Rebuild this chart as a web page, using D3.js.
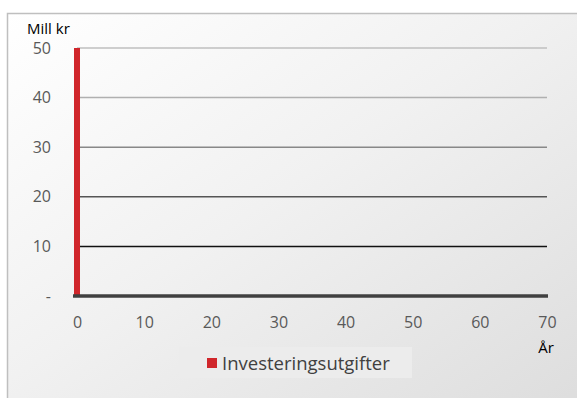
<!DOCTYPE html>
<html>
<head>
<meta charset="utf-8">
<script src="https://cdn.jsdelivr.net/npm/d3@7"></script>
<style>
  body { margin: 0; background: #fff; }
  svg { display: block; font-family: "Open Sans", sans-serif; }
</style>
</head>
<body>
<div id="chart-area"></div>
<script>
// data
var years = [0];
var investments = [50];
var yTicks = [0, 10, 20, 30, 40, 50];
var xTicks = [0, 10, 20, 30, 40, 50, 60, 70];
var gridColors = ["#404040", "#111111", "#555555", "#888888", "#b0b0b0", "#bfbfbf"];
var seriesName = "Investeringsutgifter";

var W = 577, H = 398;
var margin = {left : 77, right : 30, top : 48, bottom : 102};
var width = W - margin.left - margin.right;
var height = H - margin.top - margin.bottom;

var svg = d3.select("#chart-area")
  .append("svg")
  .attr("width", W)
  .attr("height", H);

var defs = svg.append("defs");
var grad = defs.append("linearGradient")
  .attr("id", "bg")
  .attr("x1", "0").attr("y1", "0")
  .attr("x2", "1").attr("y2", "1");
grad.append("stop").attr("offset", "0").attr("stop-color", "#ffffff");
grad.append("stop").attr("offset", "0.45").attr("stop-color", "#f1f1f1");
grad.append("stop").attr("offset", "1").attr("stop-color", "#dcdcdc");

svg.append("rect")
  .attr("x", 7.5).attr("y", 13.5)
  .attr("width", W + 10).attr("height", H + 10)
  .attr("fill", "url(#bg)")
  .attr("stroke", "#bfbfbf")
  .attr("stroke-width", 1.5);

var g = svg.append("g")
  .attr("transform", "translate(" + margin.left + ", " + margin.top + ")");

var x = d3.scaleLinear().domain([0, 70]).range([0, width]);
var y = d3.scaleLinear().domain([0, 50]).range([height, 0]);

// gridlines
g.selectAll("line.grid").data(yTicks.slice(1))
  .enter().append("line")
  .attr("class", "grid")
  .attr("x1", 0).attr("x2", width)
  .attr("y1", d => y(d)).attr("y2", d => y(d))
  .attr("stroke", (d, i) => gridColors[i + 1])
  .attr("stroke-width", 1.5);

// y axis labels
var yAxis = g.append("g")
  .call(d3.axisLeft(y).tickValues(yTicks).tickSize(0).tickPadding(26)
    .tickFormat(d => d === 0 ? "-" : d));
yAxis.select(".domain").remove();
yAxis.selectAll("text")
  .attr("font-size", "16px")
  .attr("font-family", "Open Sans, sans-serif")
  .attr("fill", "#595959");

// x axis labels
var xAxis = g.append("g")
  .attr("transform", "translate(0," + height + ")")
  .call(d3.axisBottom(x).tickValues(xTicks).tickSize(0).tickPadding(21));
xAxis.select(".domain").remove();
xAxis.selectAll("text")
  .attr("font-size", "16px")
  .attr("font-family", "Open Sans, sans-serif")
  .attr("fill", "#595959");

// bars
g.selectAll("rect.bar").data(years)
  .enter().append("rect")
  .attr("class", "bar")
  .attr("x", d => x(d) - 3)
  .attr("width", 6)
  .attr("y", (d, i) => y(investments[i]))
  .attr("height", (d, i) => y(0) - y(investments[i]))
  .attr("fill", "#d0262b");

// baseline
g.append("line")
  .attr("x1", -4).attr("x2", width + 1)
  .attr("y1", y(0)).attr("y2", y(0))
  .attr("stroke", gridColors[0])
  .attr("stroke-width", 3.5);

// axis titles
svg.append("text")
  .attr("x", 27).attr("y", 34)
  .attr("font-size", "15px")
  .attr("fill", "#000")
  .text("Mill kr");

svg.append("text")
  .attr("x", 546).attr("y", 353)
  .attr("text-anchor", "middle")
  .attr("font-size", "15px")
  .attr("fill", "#000")
  .text("År");

// legend
var legend = svg.append("g").attr("transform", "translate(179,347)");
legend.append("rect")
  .attr("width", 233).attr("height", 31)
  .attr("fill", "#ececec");
legend.append("rect")
  .attr("x", 28).attr("y", 11)
  .attr("width", 10).attr("height", 10)
  .attr("fill", "#d0262b");
legend.append("text")
  .attr("x", 43).attr("y", 23)
  .attr("font-size", "18.5px")
  .attr("fill", "#404040")
  .text(seriesName);
</script>
</body>
</html>
